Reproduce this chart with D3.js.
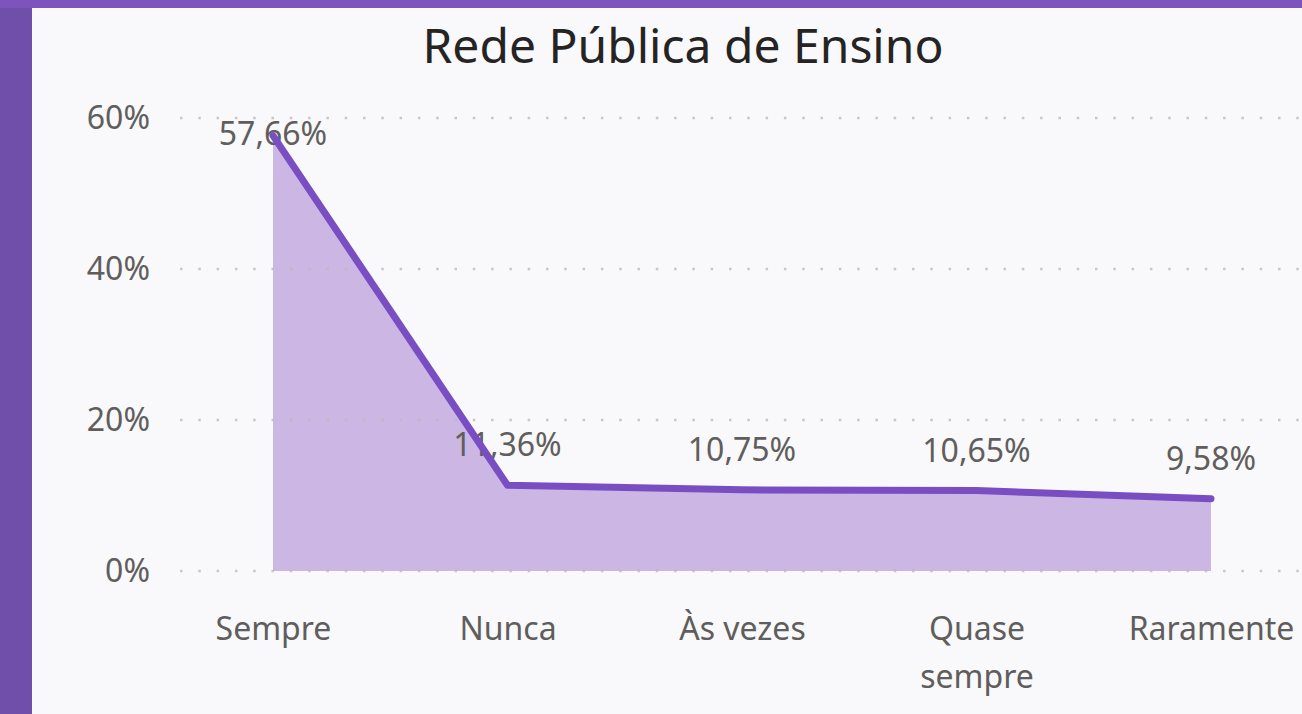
<!DOCTYPE html>
<html>
<head>
<meta charset="utf-8">
<script src="https://cdn.jsdelivr.net/npm/d3@7"></script>
<style>
  html, body { margin: 0; padding: 0; background: #7150ab; }
  svg { display: block; }
  text { font-family: "Noto Sans", "Open Sans", sans-serif; }
</style>
</head>
<body>
<svg id="chart" width="1302" height="714"></svg>
<script>
// Frequência de uso — Rede Pública de Ensino
const categories = ["Sempre", "Nunca", "Às vezes", "Quase sempre", "Raramente"];
const shares = [0.5766, 0.1136, 0.1075, 0.1065, 0.0958];
const yTicks = [0, 0.2, 0.4, 0.6];
const chartTitle = "Rede Pública de Ensino";

const W = 1302, H = 714;
const svg = d3.select("#chart");

// purple frame + light panel
svg.append("rect").attr("x", 0).attr("y", 0).attr("width", W).attr("height", H).attr("fill", "#6f4fa9");
svg.append("rect").attr("x", 0).attr("y", 0).attr("width", W).attr("height", 8).attr("fill", "#7c54bb");
svg.append("rect").attr("x", 32).attr("y", 8).attr("width", W - 32).attr("height", H - 8).attr("fill", "#f9f8fb");

const x = d3.scalePoint().domain(categories).range([273, 1211]);
const y = d3.scaleLinear().domain([0, 0.6]).range([571, 118]);
const fmtPct = v => d3.format(".2f")(v * 100).replace(".", ",") + "%";

// title
svg.append("text")
  .attr("x", 683).attr("y", 63)
  .attr("text-anchor", "middle")
  .attr("font-size", 48)
  .attr("fill", "#252423")
  .text(chartTitle);

// area
const area = d3.area()
  .x((d, i) => x(categories[i]))
  .y0(y(0))
  .y1(d => y(d));
svg.append("path").datum(shares)
  .attr("d", area)
  .attr("fill", "#cbb6e4");

// dotted gridlines (drawn over the fill)
const gridX0 = 180, gridX1 = W;
svg.append("g").selectAll("line").data(yTicks).join("line")
  .attr("x1", gridX0).attr("x2", gridX1)
  .attr("y1", d => y(d)).attr("y2", d => y(d))
  .attr("stroke", "#bcbab8")
  .attr("stroke-opacity", 0.8)
  .attr("stroke-width", 2.5)
  .attr("stroke-dasharray", "2.5,15.8");

// y axis labels
const yAxis = d3.axisLeft(y).tickValues(yTicks).tickFormat(d3.format(".0%")).tickSize(0).tickPadding(0);
const gy = svg.append("g").attr("transform", "translate(150,0)").call(yAxis);
gy.select(".domain").remove();
gy.selectAll("text")
  .attr("font-family", "Noto Sans, Open Sans, sans-serif")
  .attr("font-size", 32)
  .attr("fill", "#605e5c")
  .attr("dy", "0.34em");

// x axis labels (wrapped to two lines where long)
const xAxis = d3.axisBottom(x).tickSize(0).tickPadding(0).tickFormat("");
const gx = svg.append("g").attr("transform", "translate(0,571)").call(xAxis);
gx.select(".domain").remove();
gx.selectAll(".tick").each(function (d) {
  const words = d.split(" ");
  const lines = d.length > 10 ? words : [d];
  const t = d3.select(this).append("text")
    .attr("text-anchor", "middle")
    .attr("font-family", "Noto Sans, Open Sans, sans-serif")
    .attr("font-size", 32)
    .attr("fill", "#605e5c");
  lines.forEach((ln, i) => {
    t.append("tspan").attr("x", 0).attr("y", 69 + i * 48).text(ln);
  });
});

// data labels above each point, kept under the top gridline
const topLimit = y(0.6) + 27;
svg.append("g").selectAll("text").data(shares).join("text")
  .attr("x", (d, i) => x(categories[i]))
  .attr("y", d => Math.max(y(d) - 29, topLimit))
  .attr("text-anchor", "middle")
  .attr("font-size", 32)
  .attr("fill", "#605e5c")
  .text(fmtPct);

// line
const line = d3.line()
  .x((d, i) => x(categories[i]))
  .y(d => y(d));
svg.append("path").datum(shares)
  .attr("d", line)
  .attr("fill", "none")
  .attr("stroke", "#7a4ec3")
  .attr("stroke-width", 7)
  .attr("stroke-linecap", "round")
  .attr("stroke-linejoin", "round");
</script>
</body>
</html>
